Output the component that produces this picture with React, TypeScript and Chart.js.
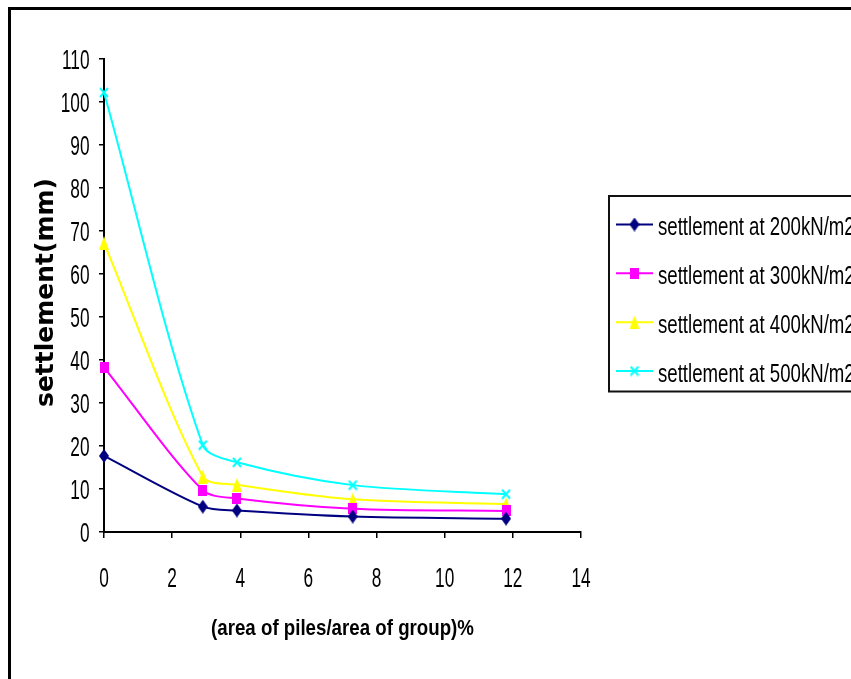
import React, { useEffect, useRef } from 'react';
import { Chart, registerables } from 'chart.js';

Chart.register(...registerables);

const xValues = [0, 2.9, 3.9, 7.3, 11.8];
const s200 = [17.7, 5.9, 5.0, 3.6, 3.1];
const s300 = [38.3, 9.7, 7.8, 5.4, 4.9];
const s400 = [67.2, 12.9, 11.0, 7.6, 6.5];
const s500 = [102.2, 20.2, 16.2, 10.9, 8.8];
const seriesLabels = [
  'settlement at 200kN/m2',
  'settlement at 300kN/m2',
  'settlement at 400kN/m2',
  'settlement at 500kN/m2',
];
const xTitle = '(area of piles/area of group)%';
const yTitle = 'settlement(mm)';

const SANS = "'Liberation Sans', Arial, sans-serif";

function makeMarker(kind: string, color: string, w: number, h: number) {
  const c = document.createElement('canvas');
  c.width = w;
  c.height = h;
  const ctx = c.getContext('2d')!;
  ctx.fillStyle = color;
  ctx.strokeStyle = color;
  ctx.beginPath();
  if (kind === 'diamond') {
    ctx.moveTo(w / 2, 0);
    ctx.lineTo(w, h / 2);
    ctx.lineTo(w / 2, h);
    ctx.lineTo(0, h / 2);
    ctx.closePath();
    ctx.fill();
  } else if (kind === 'square') {
    ctx.fillRect(0, 0, w, h);
  } else if (kind === 'triangle') {
    ctx.moveTo(w / 2, 0);
    ctx.lineTo(w, h);
    ctx.lineTo(0, h);
    ctx.closePath();
    ctx.fill();
  } else {
    ctx.lineWidth = 2;
    ctx.moveTo(1, 1);
    ctx.lineTo(w - 1, h - 1);
    ctx.moveTo(w - 1, 1);
    ctx.lineTo(1, h - 1);
    ctx.stroke();
  }
  return c;
}

function squeezedText(
  ctx: CanvasRenderingContext2D,
  text: string,
  x: number,
  y: number,
  font: string,
  sx: number,
  align: CanvasTextAlign,
) {
  ctx.save();
  ctx.translate(x, y);
  ctx.scale(sx, 1);
  ctx.font = font;
  ctx.textAlign = align;
  ctx.textBaseline = 'alphabetic';
  ctx.fillStyle = '#000';
  ctx.fillText(text, 0, 0);
  ctx.restore();
}

export default function App() {
  const ref = useRef<HTMLCanvasElement>(null);

  useEffect(() => {
    const colors = ['#000080', '#FF00FF', '#FFFF00', '#00FFFF'];
    const markers = [
      makeMarker('diamond', colors[0], 10, 14),
      makeMarker('square', colors[1], 9, 11),
      makeMarker('triangle', colors[2], 10, 14),
      makeMarker('x', colors[3], 10, 11),
    ];
    const values = [s200, s300, s400, s500];

    const overlay = {
      id: 'overlay',
      afterDraw(chart: any) {
        const ctx = chart.ctx as CanvasRenderingContext2D;
        ctx.save();
        // outer frame
        ctx.strokeStyle = '#000';
        ctx.lineWidth = 3;
        ctx.beginPath();
        ctx.moveTo(9.5, 700);
        ctx.lineTo(9.5, 8.5);
        ctx.lineTo(900, 8.5);
        ctx.stroke();

        // tick labels from the scales
        const xs = chart.scales.x;
        const ys = chart.scales.y;
        const tickFont = `27px ${SANS}`;
        xs.ticks.forEach((t: any) => {
          const px = xs.getPixelForValue(t.value);
          squeezedText(ctx, String(t.value), px, 587, tickFont, 0.64, 'center');
        });
        ys.ticks.forEach((t: any) => {
          const py = ys.getPixelForValue(t.value);
          squeezedText(ctx, String(t.value), 89.5, py + 9.8, tickFont, 0.64, 'right');
        });

        // axis titles
        squeezedText(ctx, xTitle, 342.5, 635, `bold 22px ${SANS}`, 0.85, 'center');
        ctx.save();
        ctx.translate(53.3, 292.5);
        ctx.rotate(-Math.PI / 2);
        ctx.font = "bold 25px 'DejaVu Sans', sans-serif";
        ctx.textAlign = 'center';
        ctx.textBaseline = 'alphabetic';
        ctx.fillStyle = '#000';
        ctx.fillText(yTitle, 0, 0);
        ctx.restore();

        // legend
        ctx.lineWidth = 2;
        ctx.strokeStyle = '#111';
        ctx.strokeRect(609, 196, 300, 195.5);
        const rows = [224.5, 273.3, 322.2, 371];
        chart.data.datasets.forEach((ds: any, i: number) => {
          const y = rows[i];
          ctx.strokeStyle = ds.borderColor;
          ctx.lineWidth = 2;
          ctx.beginPath();
          ctx.moveTo(616, y);
          ctx.lineTo(653, y);
          ctx.stroke();
          const m = ds.pointStyle as HTMLCanvasElement;
          ctx.drawImage(m, 634.5 - m.width / 2, y - m.height / 2);
          squeezedText(ctx, ds.label, 658, y + 10.5, `25px ${SANS}`, 0.745, 'left');
        });
        ctx.restore();
      },
    };

    const chart = new Chart(ref.current!, {
      type: 'line',
      data: {
        datasets: values.map((vals, i) => ({
          label: seriesLabels[i],
          data: xValues.map((x, j) => ({ x, y: vals[j] })),
          borderColor: colors[i],
          backgroundColor: colors[i],
          borderWidth: 2,
          pointStyle: markers[i] as any,
          pointRadius: 6,
          tension: 0.3,
          clip: false as any,
        })),
      },
      options: {
        animation: false,
        responsive: false,
        layout: { padding: { left: 0, top: 59, right: 270, bottom: 0 } },
        plugins: {
          legend: { display: false },
          tooltip: { enabled: false },
        },
        scales: {
          x: {
            type: 'linear',
            min: 0,
            max: 14,
            afterFit: (s: any) => {
              s.height = 147;
            },
            ticks: {
              stepSize: 2,
              display: false,
            },
            grid: {
              drawOnChartArea: false,
              drawTicks: true,
              tickLength: 6,
              color: '#000',
              lineWidth: 1.5,
            },
            border: { color: '#000', width: 2 },
          },
          y: {
            type: 'linear',
            min: 0,
            max: 110,
            afterFit: (s: any) => {
              s.width = 104;
            },
            ticks: {
              stepSize: 10,
              display: false,
            },
            grid: {
              drawOnChartArea: false,
              drawTicks: true,
              tickLength: 5,
              color: '#000',
              lineWidth: 1.5,
            },
            border: { color: '#000', width: 2 },
          },
        },
      },
      plugins: [overlay],
    });
    return () => chart.destroy();
  }, []);

  return (
    <div style={{ position: 'absolute', left: 0, top: 0, width: 851, height: 679, overflow: 'hidden', background: '#fff' }}>
      <canvas ref={ref} width={851} height={679} style={{ display: 'block' }} />
    </div>
  );
}
